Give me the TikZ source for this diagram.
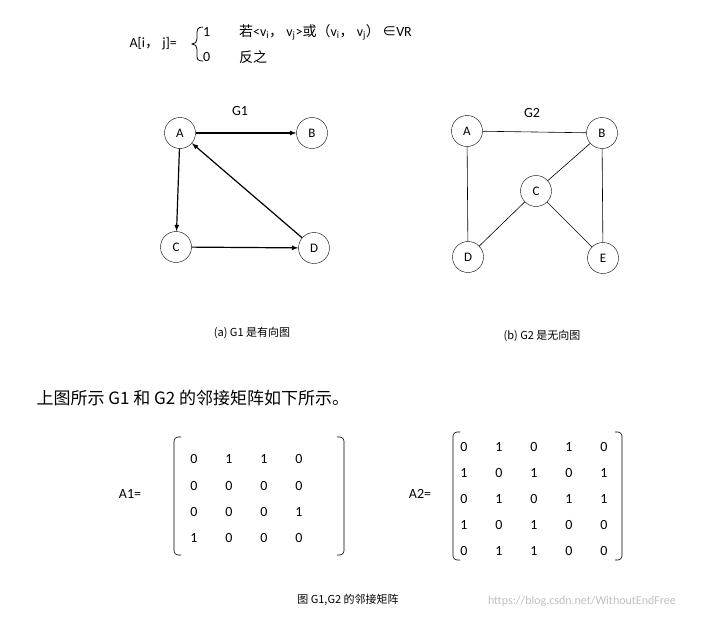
\documentclass[tikz,border=0pt]{standalone}
\usepackage{fontspec}
\usetikzlibrary{shapes.geometric}
\setmainfont{Carlito}
\newfontfamily\cjk{Noto Sans CJK SC}
\begin{document}
\begin{tikzpicture}[x=1pt,y=-1pt,
  vtx/.style={draw,ellipse,minimum width=31pt,minimum height=31pt,inner sep=0pt,font=\fontsize{13}{14}\selectfont},
  arr/.style={-latex,very thick},
  ed/.style={semithick},
  lbl/.style={font=\fontsize{14}{16}\selectfont},
  captxt/.style={font=\cjk\fontsize{11}{13}\selectfont},
  mat/.style={font=\fontsize{14}{16}\selectfont},
  brk/.style={semithick,rounded corners=4pt}]
\useasboundingbox (0,0) rectangle (724,621);
% formula
\node[lbl,anchor=west] (f) at (126,44) {A[i{\cjk ，} j]=};
\draw[thick] (203,27) .. controls (197,27) and (197,30) .. (197,35) -- (197,39) .. controls (197,42) and (195,44) .. (192,44) .. controls (195,44) and (197,46) .. (197,49) -- (197,54) .. controls (197,59) and (197,61) .. (203,61);
\node[lbl,anchor=west,inner sep=0pt] (one) at (203,32) {1};
\node[lbl,anchor=west,inner sep=0pt] (zero) at (203,57) {0};
\node[lbl,anchor=west,inner sep=0pt] (r1) at (239,32) {{\cjk 若}<v\textsubscript{i}{\cjk ，} v\textsubscript{j}>{\cjk 或（}v\textsubscript{i}{\cjk ，} v\textsubscript{j}{\cjk ）}\,{\cjk ∈}VR};
\node[lbl,anchor=west,inner sep=0pt] (r2) at (239,57) {\cjk 反之};
% G1
\node[vtx] (A) at (180,133) {A};
\node[vtx] (B) at (312,133) {B};
\node[vtx] (C) at (176,247) {C};
\node[vtx] (D) at (314,248) {D};
\node[lbl] (g1) at (240,111) {G1};
\draw[arr] (A) -- (B);
\draw[arr] (A) -- (C);
\draw[arr] (C) -- (D);
\draw[arr] (D) -- (A);
% G2
\node[vtx] (A2) at (467,131) {A};
\node[vtx] (B2) at (602,133) {B};
\node[vtx] (C2) at (536,191) {C};
\node[vtx] (D2) at (468,257) {D};
\node[vtx] (E2) at (603,258) {E};
\node[lbl] (g2) at (532,113) {G2};
\draw[ed] (A2) -- (B2);
\draw[ed] (A2) -- (D2);
\draw[ed] (B2) -- (C2);
\draw[ed] (B2) -- (E2);
\draw[ed] (C2) -- (D2);
\draw[ed] (C2) -- (E2);
% captions
\node[captxt] (ca) at (252,333) {(a) G1 是有向图};
\node[captxt] (cb) at (542,336) {(b) G2 是无向图};
\node[anchor=west,font=\cjk\fontsize{17}{19}\selectfont] (t) at (33,398) {上图所示 G1 和 G2 的邻接矩阵如下所示。};
% A1
\node[lbl] (l1) at (130,494) {A1=};
\draw[brk] (181,437) -- (174,437) -- (174,555) -- (181,555);
\draw[brk] (337,437) -- (344,437) -- (344,555) -- (337,555);
\foreach \r [count=\i] in {{0,1,1,0},{0,0,0,0},{0,0,0,1},{1,0,0,0}}
  \foreach \v [count=\j] in \r
    \node[mat] (a\i\j) at (159+35*\j,433+26.3*\i) {\v};
% A2
\node[lbl] (l2) at (420,494) {A2=};
\draw[brk] (460,432) -- (453,432) -- (453,560) -- (460,560);
\draw[brk] (615,432) -- (622,432) -- (622,560) -- (615,560);
\foreach \r [count=\i] in {{0,1,0,1,0},{1,0,1,0,1},{0,1,0,1,1},{1,0,1,0,0},{0,1,1,0,0}}
  \foreach \v [count=\j] in \r
    \node[mat] (b\i\j) at (429+35*\j,421+26*\i) {\v};
\node[captxt] (cc) at (348,600) {图 G1,G2 的邻接矩阵};
\node[font=\fontsize{12}{14}\selectfont,text=black!25] (w) at (582,601) {https://blog.csdn.net/WithoutEndFree};
\end{tikzpicture}
\end{document}
